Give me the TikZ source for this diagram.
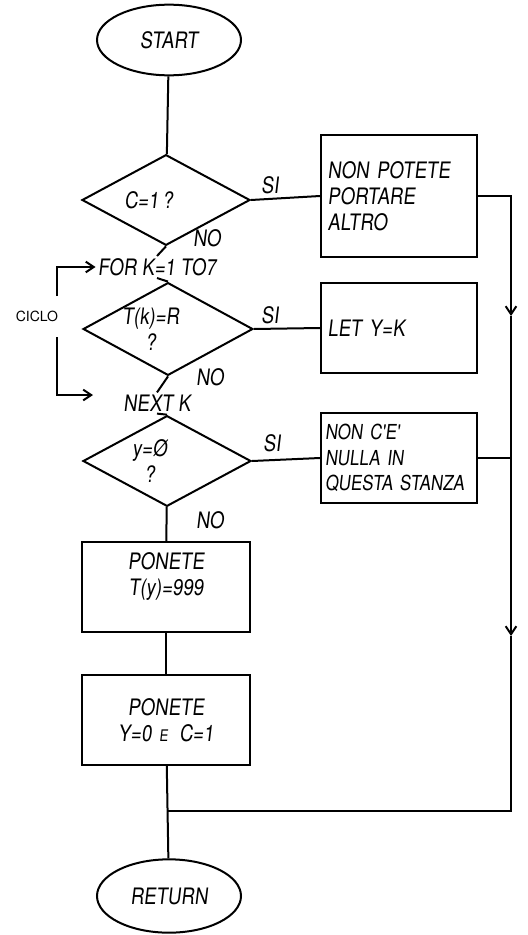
\documentclass[tikz,border=0pt]{standalone}
\usepackage{fontspec}
\newfontfamily\handfont{TeX Gyre Heros}[FakeStretch=0.82,FakeSlant=0.12]
\newfontfamily\plainhand{TeX Gyre Heros}
\usetikzlibrary{shapes.geometric,arrows.meta,positioning}
\newcommand{\offl}[1]{#1\hspace*{26pt}}
\tikzset{
  hand/.style={font=\handfont\fontsize{17}{19.5}\selectfont},
  term/.style={draw,ellipse,hand,minimum width=108pt,minimum height=53pt,inner sep=0pt},
  decision/.style={draw,diamond,aspect=1.83,hand,minimum width=126pt,minimum height=68pt,inner sep=0pt,align=center},
  sidebox/.style={draw,rectangle,hand,inner xsep=5pt,inner ysep=0pt,text width=107pt,align=left},
  mainbox/.style={draw,rectangle,hand,inner xsep=5pt,inner ysep=0pt,text width=116pt,align=center,minimum height=67pt},
  tag/.style={hand,inner sep=1pt}
}
\begin{document}
\begin{tikzpicture}[x=0.75pt,y=-0.75pt,line width=1.5pt,>={Straight Barb[length=6pt,width=8pt]}]
  \useasboundingbox[fill=white] (0,0) rectangle (528,935);
  % main column
  \node[term] (start) at (169,40) {START};
  \node[decision] (cq) at (166,200) {\offl{C=1\,?}};
  \node[tag] (for) at (157,267) {FOR K=1 TO7};
  \node[decision] (tq) at (168,329) {\offl{T(k)=R}\\\offl{?}};
  \node[tag] (next) at (157,403) {NEXT K};
  \node[decision] (yq) at (167,461) {\offl{y=Ø}\\\offl{?}};
  \node[mainbox] (setT) at (166,587) {PONETE\\T(y)=999\\\mbox{}};
  \node[mainbox] (setY) at (166,720) {PONETE\\Y=0 {\fontsize{12}{13}\selectfont E}\, C=1};
  \node[term,minimum height=55pt] (ret) at (169,896) {RETURN};
  % boxes on the right
  \node[sidebox,minimum height=91pt] (full) at (399,196) {NON POTETE\\PORTARE\\ALTRO};
  \node[sidebox,minimum height=67pt] (lety) at (399,328) {LET Y=K};
  \node[sidebox,minimum height=68pt,inner xsep=3pt,text width=111pt,font=\handfont\fontsize{15.5}{19}\selectfont] (none) at (399,458) {NON C'E'\\NULLA IN\\QUESTA STANZA};
  % answers
  \node[tag] (si1) at (270,185) {SI};
  \node[tag] (no1) at (207,238) {NO};
  \node[tag] (si2) at (270,315) {SI};
  \node[tag] (no2) at (210,377) {NO};
  \node[tag] (si3) at (272,443) {SI};
  \node[tag] (no3) at (210,520) {NO};
  % loop bracket
  \node[font=\plainhand\fontsize{10.5}{12}\selectfont,inner sep=1pt] (ciclo) at (37,316) {CICLO};
  \coordinate (lt) at (57,296);
  \coordinate (lb) at (57,337);
  \coordinate (nxt) at (93,395);
  \coordinate (arrA) at (511,316);
  \coordinate (arrB) at (511,636);
  \coordinate (join) at (168,811);
  % connectors
  \draw (start) -- (cq);
  \draw (cq.south) -- (for.north);
  \draw (for.south) -- (tq.north);
  \draw (tq.south) -- (next.north);
  \draw (next.south) -- (yq.north);
  \draw (yq) -- (setT);
  \draw (setT) -- (setY);
  \draw (setY) -- (ret);
  \draw (cq.east) -- (full.west);
  \draw (tq.east) -- (lety.west);
  \draw (yq.east) -- (none.west);
  \draw[->] (lt) |- (for.west);
  \draw[->] (lb) |- (nxt);
  % return line on the right
  \draw[->] (full.east) -| (arrA);
  \draw[->] (arrA) -- (arrB);
  \draw (arrB) |- (join);
  \draw (none.east) -- (none.east -| arrA);
\end{tikzpicture}
\end{document}
